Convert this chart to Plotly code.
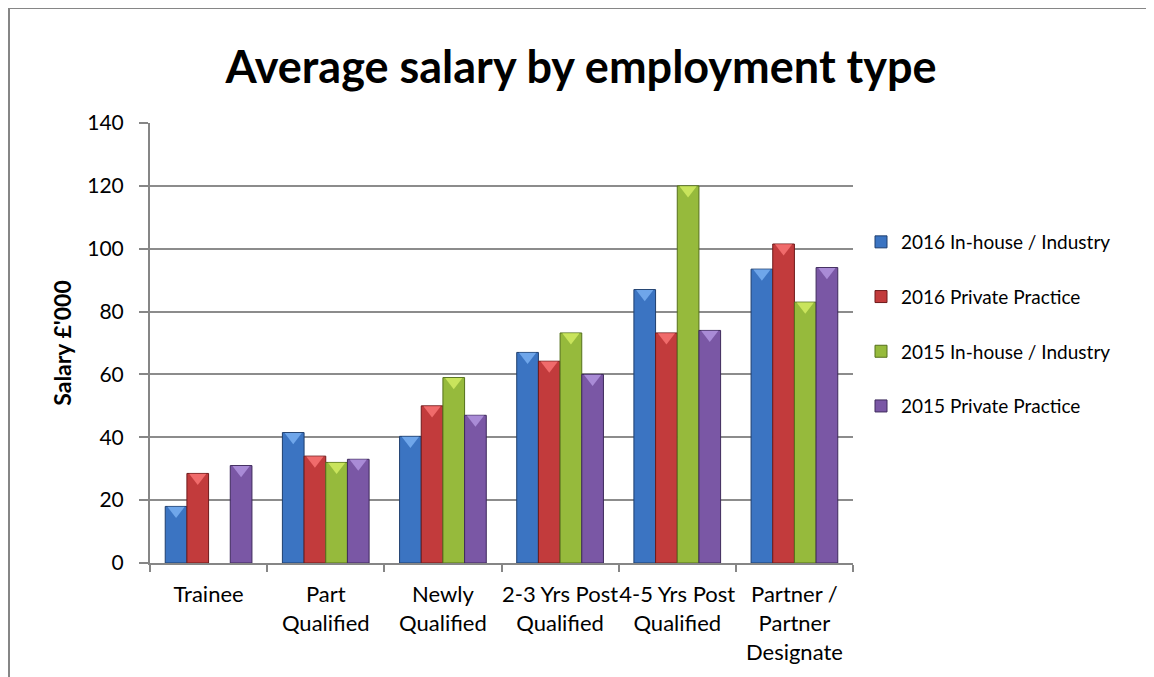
import plotly.graph_objects as go

categories = ["Trainee", "Part<br>Qualified", "Newly<br>Qualified",
              "2-3 Yrs Post<br>Qualified", "4-5 Yrs Post<br>Qualified",
              "Partner /<br>Partner<br>Designate"]
series_names = ["2016 In-house / Industry", "2016 Private Practice",
                "2015 In-house / Industry", "2015 Private Practice"]
in_house_2016 = [18, 41.5, 40.3, 67, 87, 93.5]
private_2016 = [28.5, 34, 50, 64.2, 73.2, 101.5]
in_house_2015 = [None, 32, 59, 73.2, 120, 83]
private_2015 = [31, 33, 47, 60, 74, 94]
y_ticks = [0, 20, 40, 60, 80, 100, 120, 140]

values = [in_house_2016, private_2016, in_house_2015, private_2015]
fills = ["#3B74C2", "#C23B3C", "#96BA3C", "#7A57A5"]
edges = ["#1F3F6E", "#6E1A1B", "#55701C", "#3E2A5C"]
bevels = ["#6FA6EA", "#F06B6B", "#C9E45C", "#A98BD6"]

FONT = "Lato"
fig = go.Figure()
for name, vals, fc, ec in zip(series_names, values, fills, edges):
    fig.add_trace(go.Bar(
        x=categories, y=vals, name=name,
        marker=dict(color=fc, line=dict(color=ec, width=1)),
        legendgroup=name,
    ))

# lighter bevel triangle on top of each bar, derived from the bar values
for name, vals, bc in zip(series_names, values, bevels):
    fig.add_trace(go.Scatter(
        x=categories, y=[None if v is None else v - 1.3 for v in vals],
        mode="markers", showlegend=False, hoverinfo="skip",
        marker=dict(symbol="triangle-down", size=15, color=bc,
                    line=dict(width=0)),
        legendgroup=name,
    ))

# page body has an 8px margin: work in screenshot coordinates minus 8
OFF = 8
W, H = 1154 - OFF, 677 - OFF
L, R, T, B = 150 - OFF, 853 - OFF, 123 - OFF, 563 - OFF
pw, ph = R - L, B - T

def px(x):
    return (x - OFF - L) / pw

def py(y):
    return (B - (y - OFF)) / ph

fig.update_layout(
    width=W, height=H,
    margin=dict(l=L, r=W - R, t=T, b=H - B, autoexpand=False),
    paper_bgcolor="white", plot_bgcolor="white",
    barmode="group", bargap=0.26, bargroupgap=0.0,
    scattermode="group", scattergap=0.26,
    font=dict(family=FONT, color="black"),
    title=dict(text="<b>Average salary by employment type</b>",
               x=0.5, xanchor="center", xref="container",
               y=1 - (67 - OFF) / H, yanchor="middle", yref="container",
               font=dict(size=45, family=FONT, color="black")),
    legend=dict(x=px(861), xanchor="left", y=py(324), yanchor="middle",
                font=dict(size=19, family=FONT, color="black"),
                traceorder="grouped", tracegroupgap=27,
                bgcolor="rgba(0,0,0,0)", itemwidth=30),
    showlegend=True,
    shapes=[
        dict(type="line", xref="paper", yref="paper",
             x0=px(9), x1=px(1170), y0=py(8), y1=py(8),
             line=dict(color="#868686", width=2)),
        dict(type="line", xref="paper", yref="paper",
             x0=px(9), x1=px(9), y0=py(8), y1=py(700),
             line=dict(color="#868686", width=2)),
    ],
)
fig.update_yaxes(
    range=[0, 140], tickvals=y_ticks, ticks="outside", ticklen=9,
    tickcolor="#868686", tickwidth=2, ticklabelstandoff=11,
    showgrid=True, gridcolor="#8C8C8C", gridwidth=2,
    showline=True, linecolor="#868686", linewidth=2,
    tickfont=dict(size=21, family=FONT, color="black"),
    title=dict(text="<b>Salary £'000</b>", standoff=9,
               font=dict(size=23, family=FONT, color="black")),
    zeroline=False,
)
fig.update_xaxes(
    tickson="boundaries", ticks="outside", ticklen=7, tickangle=0,
    tickcolor="#868686", tickwidth=2, ticklabelstandoff=11,
    showline=True, linecolor="#868686", linewidth=2,
    tickfont=dict(size=22, family=FONT, color="black"),
    showgrid=False,
)
fig.write_html("out.html")
